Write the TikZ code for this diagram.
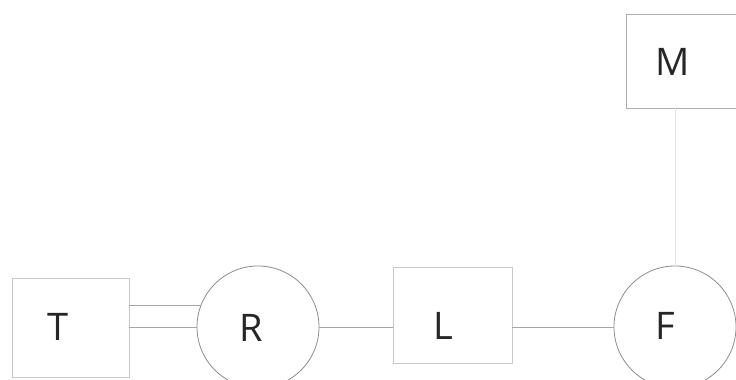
\documentclass[tikz,border=0pt]{standalone}
\usepackage{fontspec}
\setmainfont{Open Sans}
\begin{document}
\begin{tikzpicture}[x=1pt,y=-1pt,
  boxst/.style={draw=black!22,line width=0.9pt,rectangle,inner sep=0pt},
  circst/.style={draw=black!45,line width=0.8pt,circle,inner sep=0pt,minimum size=122pt},
  lbl/.style={text=black!85,font=\fontsize{38}{40}\selectfont},
  wire/.style={draw=black!35,line width=0.9pt}]
\useasboundingbox (0,0) rectangle (736,380);
\begin{scope}
\clip (0,0) rectangle (736,380);
\node[boxst,minimum width=117pt,minimum height=99pt] (T) at (70.5,327.5) {};
\node[circst] (R) at (258,327) {};
\node[boxst,minimum width=119pt,minimum height=96pt] (L) at (452.5,315) {};
\node[circst] (F) at (675,327) {};
\node[boxst,draw=black!32,minimum width=130pt,minimum height=94pt] (M) at (691,61) {};
\end{scope}
\node[lbl] (tT) at (58,327) {T};
\node[lbl] (tR) at (251,328) {R};
\node[lbl] (tL) at (443,326) {L};
\node[lbl] (tF) at (665,326) {F};
\node[lbl] (tM) at (673,62) {M};
\path (R.center) ++(-56.9,-22) coordinate (rup);
\draw[wire] (T.east |- rup) -- (rup);
\draw[wire] (T.east |- 0,327) -- (R.west);
\draw[wire] (R.east) -- (L.west |- R.east);
\draw[wire] (L.east |- F.west) -- (F.west);
\draw[draw=black!10,line width=0.9pt] (M.south -| F.north) -- (F.north);
\end{tikzpicture}
\end{document}
